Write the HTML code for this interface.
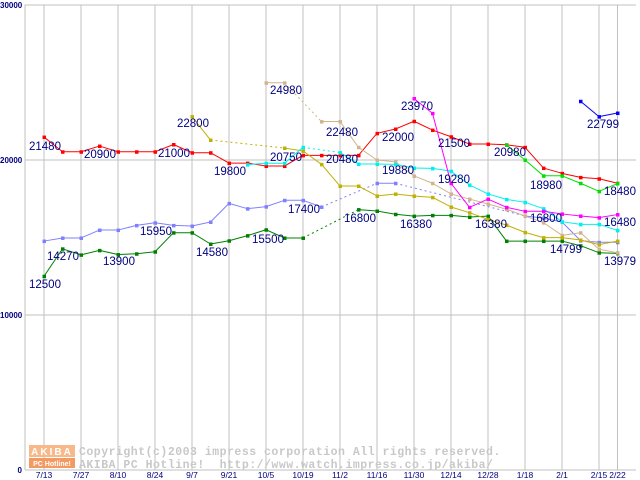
<!DOCTYPE html>
<html><head><meta charset="utf-8"><style>
body{margin:0;background:#fff;}
svg{display:block;font-family:"Liberation Sans",sans-serif;}
</style></head><body>
<svg id="chart" width="640" height="480" viewBox="0 0 640 480" xmlns="http://www.w3.org/2000/svg">
<g id="grid"></g>
<g id="wm">
  <rect x="29" y="445" width="46" height="12" fill="#f7b98a"/>
  <rect x="29" y="458" width="46" height="10" fill="#f39a63"/>
  <text x="52" y="455" font-size="10" font-weight="bold" fill="#fff" text-anchor="middle" letter-spacing="2">AKIBA</text>
  <text x="52" y="466" font-size="7" font-weight="bold" fill="#fff" text-anchor="middle">PC Hotline!</text>
  <text x="79" y="455" font-family="Liberation Mono, monospace" font-size="11.5" font-weight="bold" fill="#c8c8c8" letter-spacing="0.5">Copyright(c)2003 impress corporation All rights reserved.</text>
  <text x="79" y="468" font-family="Liberation Mono, monospace" font-size="11.5" font-weight="bold" fill="#c8c8c8" letter-spacing="0.5" xml:space="preserve">AKIBA PC Hotline!  http://www.watch.impress.co.jp/akiba/</text>
</g>
<g id="series"></g>
<g id="labels"></g>
</svg>
<script>
const yTicks=[0,10000,20000,30000];
const xTickLabels=["7/13","7/27","8/10","8/24","9/7","9/21","10/5","10/19","11/2","11/16","11/30","12/14","12/28","1/18","2/1","2/15","2/22"];
const xTickIdx=[0,2,4,6,8,10,12,14,16,18,20,22,24,26,28,30,31];
const N=32;
const N_=null;
const red=[21480,20530,20530,20900,20530,20530,20530,21000,20470,20470,19800,19800,19610,19610,20300,20300,20300,20300,21720,22000,22500,21930,21500,21030,21030,20980,20820,19480,19140,18880,18790,18500];
const darkGreen=[12500,14270,13880,14170,13900,13950,14080,15310,15310,14580,14790,15120,15500,14970,14970,N_,N_,16800,16710,16500,16380,16430,16430,16320,16380,14770,14770,14770,14770,14470,14020,13979];
const violet=[14770,14970,14970,15480,15480,15780,15950,15780,15740,16000,17200,16860,16990,17400,17400,16970,N_,N_,18500,18500,N_,N_,N_,N_,N_,N_,16390,16250,16000,14799,14690,14690];
const tan=[N_,N_,N_,N_,N_,N_,N_,N_,N_,N_,N_,N_,24980,24980,N_,22480,22480,20820,20000,19880,18970,18500,17810,17480,17160,16820,16390,15960,15140,15310,14240,14020];
const olive=[N_,N_,N_,N_,N_,N_,N_,N_,22800,21290,N_,N_,N_,20770,20580,19720,18320,18320,17680,17810,17680,17590,16970,16600,16170,15800,15330,14990,14990,14840,14540,14770];
const cyan=[N_,N_,N_,N_,N_,N_,N_,N_,N_,N_,N_,19700,19790,19790,20820,N_,20480,19740,19740,19720,19480,19460,19280,18390,17810,17460,17270,16860,16020,15850,15850,15460];
const magenta=[N_,N_,N_,N_,N_,N_,N_,N_,N_,N_,N_,N_,N_,N_,N_,N_,N_,N_,N_,N_,23970,23010,18500,16950,17480,16950,16690,16690,16520,16390,16280,16480];
const lime=[N_,N_,N_,N_,N_,N_,N_,N_,N_,N_,N_,N_,N_,N_,N_,N_,N_,N_,N_,N_,N_,N_,N_,N_,N_,20980,20000,18980,18980,18500,17980,18480];
const blue=[N_,N_,N_,N_,N_,N_,N_,N_,N_,N_,N_,N_,N_,N_,N_,N_,N_,N_,N_,N_,N_,N_,N_,N_,N_,N_,N_,N_,N_,23790,22799,23030];
const seriesList=[["red",red,"#ff0000"],["dark-green",darkGreen,"#008000"],["violet",violet,"#8080ff"],["tan",tan,"#d2b48c"],["olive",olive,"#c0b000"],["cyan",cyan,"#00f0f0"],["magenta",magenta,"#ff00ff"],["lime",lime,"#00e000"],["blue",blue,"#0000ff"]];
const annTexts=["21480","20900","21000","22800","24980","19800","20750","17400","15950","14270","13900","14580","15500","12500","22480","20480","22000","23970","21500","20980","19880","19280","16800","16380","16380","16800","18980","18480","22799","16480","14799","13979"];
const annPos=[[29,150],[84,158],[158,157],[177,127],[270,94],[214,175],[270,161],[288,213],[140,235],[47,260],[103,265],[196,256],[252,243],[29,288],[326,136],[326,163],[382,141],[401,110],[438,147],[494,156],[382,174],[438,183],[344,222],[400,228],[475,228],[530,222],[530,189],[604,195],[587,128],[604,226],[550,253],[604,265]];

const NS="http://www.w3.org/2000/svg";
const X0=25,X1=636,Y0=470,YT=4.5;
function xs(i){return 44+18.5*i;}
function ys(v){return Y0-v*0.0155;}
function mk(tag,attrs,parent){const e=document.createElementNS(NS,tag);for(const k in attrs)e.setAttribute(k,attrs[k]);parent.appendChild(e);return e;}
const grid=document.getElementById('grid');
xTickIdx.forEach((ix,j)=>{
  const l=mk('line',{x1:xs(ix),x2:xs(ix),y1:YT,y2:Y0,stroke:'#c0c0c0','stroke-width':1},grid);
  
  
  const t=mk('text',{x:xs(ix),y:478,'font-size':8.5,fill:'#000080','text-anchor':'middle'},grid);
  t.textContent=xTickLabels[j];
  
  
});
yTicks.forEach(v=>{
  const l=mk('line',{x1:X0,x2:X1,y1:ys(v),y2:ys(v),stroke:'#c0c0c0','stroke-width':1},grid);
  
  
  const t=mk('text',{x:v?0:22,y:ys(v)+3,'font-size':8,'font-weight':'bold',fill:'#000080','text-anchor':v?'start':'end'},grid);
  t.textContent=String(v);
  
  
});
const ax=mk('line',{x1:X0,x2:X0,y1:YT,y2:Y0,stroke:'#c0c0c0'},grid);


const sg=document.getElementById('series');
seriesList.forEach(([name,arr,col])=>{
  const g=mk('g',{},sg);
  
  
  let prev=-1;
  for(let i=0;i<N;i++){
    if(arr[i]==null)continue;
    if(prev>=0){
      const a={x1:xs(prev),y1:ys(arr[prev]),x2:xs(i),y2:ys(arr[i]),stroke:col,'stroke-width':1};
      if(i-prev>1)a['stroke-dasharray']='2,3';
      const l=mk('line',a,g);
      
      
    }
    prev=i;
  }
  for(let i=0;i<N;i++){
    if(arr[i]==null)continue;
    const r=mk('rect',{x:xs(i)-1.5,y:ys(arr[i])-1.5,width:3.5,height:3.5,fill:col},g);
    
    
  }
});
const lg=document.getElementById('labels');
annTexts.forEach((s,i)=>{
  const t=mk('text',{x:annPos[i][0],y:annPos[i][1],'font-size':11.5,fill:'#000080'},lg);
  t.textContent=s;
  
  
});
</script>
</body></html>
